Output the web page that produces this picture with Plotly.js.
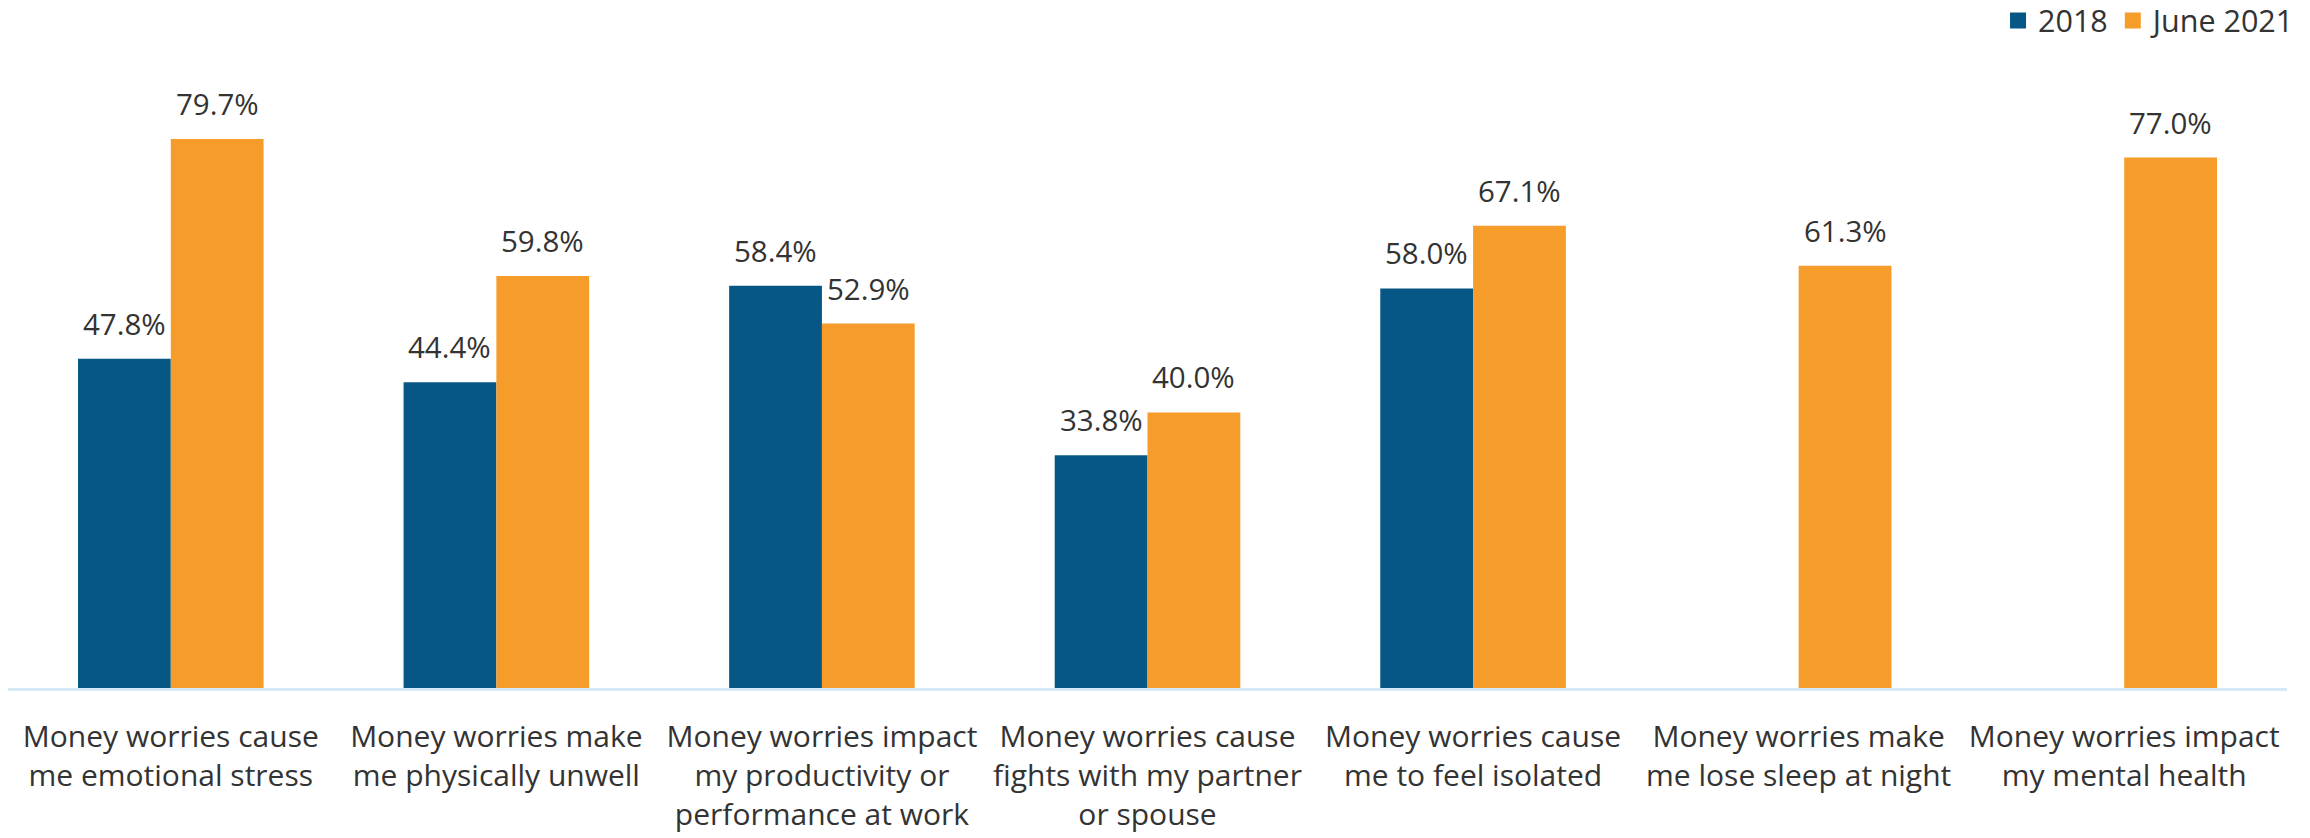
<!DOCTYPE html>
<html>
<head>
<meta charset="utf-8">
<script src="https://cdn.plot.ly/plotly-3.0.1.min.js"></script>
<style>html,body{margin:0;padding:0;background:#fff;}#chart{width:2310px;height:838px;}</style>
</head>
<body>
<div id="chart"></div>
<script>
const categories = [
  "Money worries cause<br>me emotional stress",
  "Money worries make<br>me physically unwell",
  "Money worries impact<br>my productivity or<br>performance at work",
  "Money worries cause<br>fights with my partner<br>or spouse",
  "Money worries cause<br>me to feel isolated",
  "Money worries make<br>me lose sleep at night",
  "Money worries impact<br>my mental health"
];
const seriesNames = ["2018", "June 2021"];
const values2018 = [47.8, 44.4, 58.4, 33.8, 58.0, null, null];
const valuesJune2021 = [79.7, 59.8, 52.9, 40.0, 67.1, 61.3, 77.0];

const colors = ["#065785", "#F69C2B"];
const textColor = "#333333";
const font = "Open Sans, Lato, sans-serif";
const bargap = 0.43;

const allSeries = [values2018, valuesJune2021];
const traces = allSeries.map((vals, s) => ({
  type: "bar",
  name: seriesNames[s],
  x: categories,
  y: vals,
  marker: {color: colors[s]},
  showlegend: false,
  hoverinfo: "skip"
}));
// legend-only entries with larger square swatches
allSeries.forEach((vals, s) => {
  traces.push({
    type: "scatter",
    mode: "markers",
    name: seriesNames[s],
    x: [categories[0]],
    y: [null],
    marker: {color: colors[s], symbol: "square", size: 19},
    showlegend: true,
    hoverinfo: "skip"
  });
});

const half = (1 - bargap) / 2;
const annotations = [];
allSeries.forEach((vals, s) => {
  vals.forEach((v, i) => {
    if (v === null) return;
    annotations.push({
      x: i + (s === 0 ? -half / 2 : half / 2),
      y: v,
      xref: "x", yref: "y",
      text: v.toFixed(1) + "%",
      showarrow: false,
      yanchor: "bottom",
      yshift: 13,
      font: {family: font, size: 29.5, color: textColor}
    });
  });
});

const layout = {
  width: 2310,
  height: 838,
  margin: {l: 8, r: 23, t: 67.5, b: 150, autoexpand: false},
  paper_bgcolor: "#ffffff",
  plot_bgcolor: "#ffffff",
  barmode: "group",
  bargap: bargap,
  bargroupgap: 0,
  showlegend: true,
  legend: {
    orientation: "h",
    x: 1.0066, xanchor: "right",
    y: 1.119, yanchor: "top",
    font: {family: font, size: 30.5, color: textColor},
    traceorder: "normal",
    itemsizing: "trace"
  },
  xaxis: {
    type: "category",
    range: [-0.5, categories.length - 0.5],
    automargin: false,
    showline: true,
    linecolor: "#D5E9F6",
    linewidth: 3,
    ticks: "",
    showgrid: false,
    zeroline: false,
    tickangle: 0,
    ticklabelstandoff: 20,
    tickfont: {family: font, size: 30, color: textColor}
  },
  yaxis: {
    range: [0, 90],
    automargin: false,
    visible: false,
    showgrid: false,
    zeroline: false
  },
  annotations: annotations
};

Plotly.newPlot("chart", traces, layout, {displayModeBar: false, staticPlot: true});
</script>
</body>
</html>
